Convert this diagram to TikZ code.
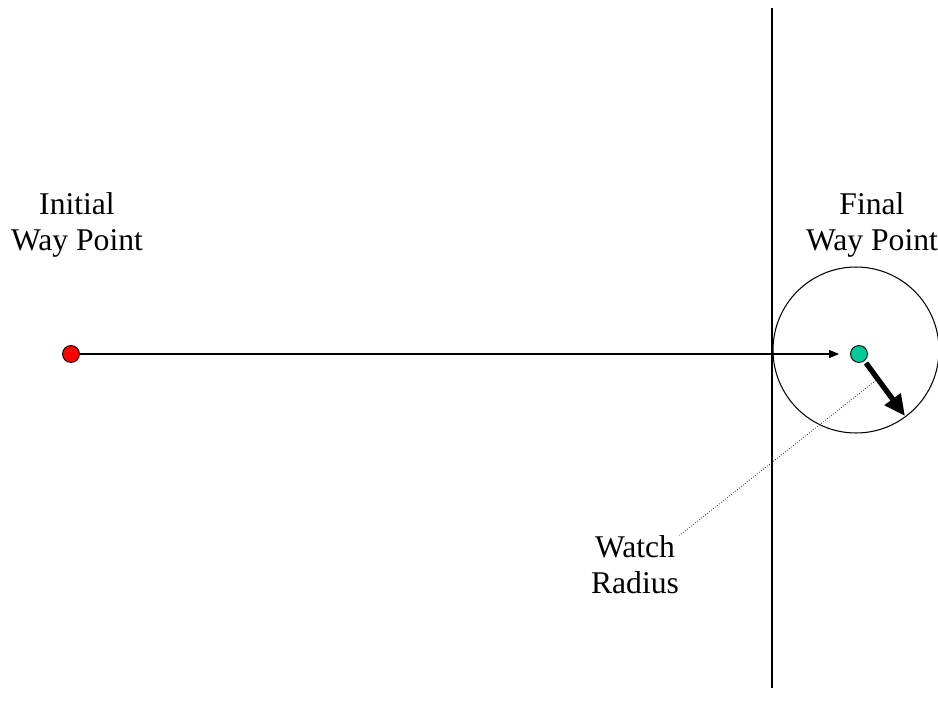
\documentclass[tikz,border=0pt]{standalone}
\usepackage{fontspec}
\setmainfont{Liberation Serif}
\usetikzlibrary{arrows.meta, positioning, calc}
\definecolor{WayRed}{RGB}{255,0,0}
\definecolor{WayGreen}{RGB}{0,204,153}

\begin{document}
\begin{tikzpicture}[x=0.02cm, y=-0.02cm, line width=0.6pt,
	wp/.style={circle, draw=black, line width=0.5pt, minimum size=0.34cm, inner sep=0pt},
	lbl/.style={align=center, font=\fontsize{18}{20.5}\selectfont, inner sep=0pt},
	fl/.style={-{Triangle[length=2mm, width=1.6mm]}},
	heading/.style={line width=3pt, -{Triangle[length=4.2mm, width=3.8mm]}}]
	\useasboundingbox (0,0) rectangle (938,717);

	% --- watch line and watch circle ---
	\coordinate (ltop) at (772,8);
	\coordinate (lbot) at (772,688);
	\draw (ltop) -- (lbot);
	\node[circle, draw, minimum size=3.32cm, inner sep=0pt] (watch) at (856,350) {};

	% --- way points ---
	\node[wp, fill=WayRed] (ini) at (71,354) {};
	\node[wp, fill=WayGreen] (fin) at (859,354) {};
	\draw[fl] (ini) -- ([xshift=-0.22cm]fin.west);

	% --- heading ---
	\coordinate (head) at (905,416);
	\coordinate (tail) at (866,363);
	\draw[heading] (tail) -- (head);
	\coordinate (mid) at ($(tail)!0.3!(head)$);

	% --- labels ---
	\node[lbl] (initial) at (77,225) {Initial\\Way Point};
	\node[lbl] (final) at (872,225) {Final\\Way Point};
	\node[lbl] (radius) at (635,565) {Watch\\Radius};
	\draw[densely dotted, line width=0.45pt, black!80] (mid) -- (radius.north east);
\end{tikzpicture}
\end{document}
